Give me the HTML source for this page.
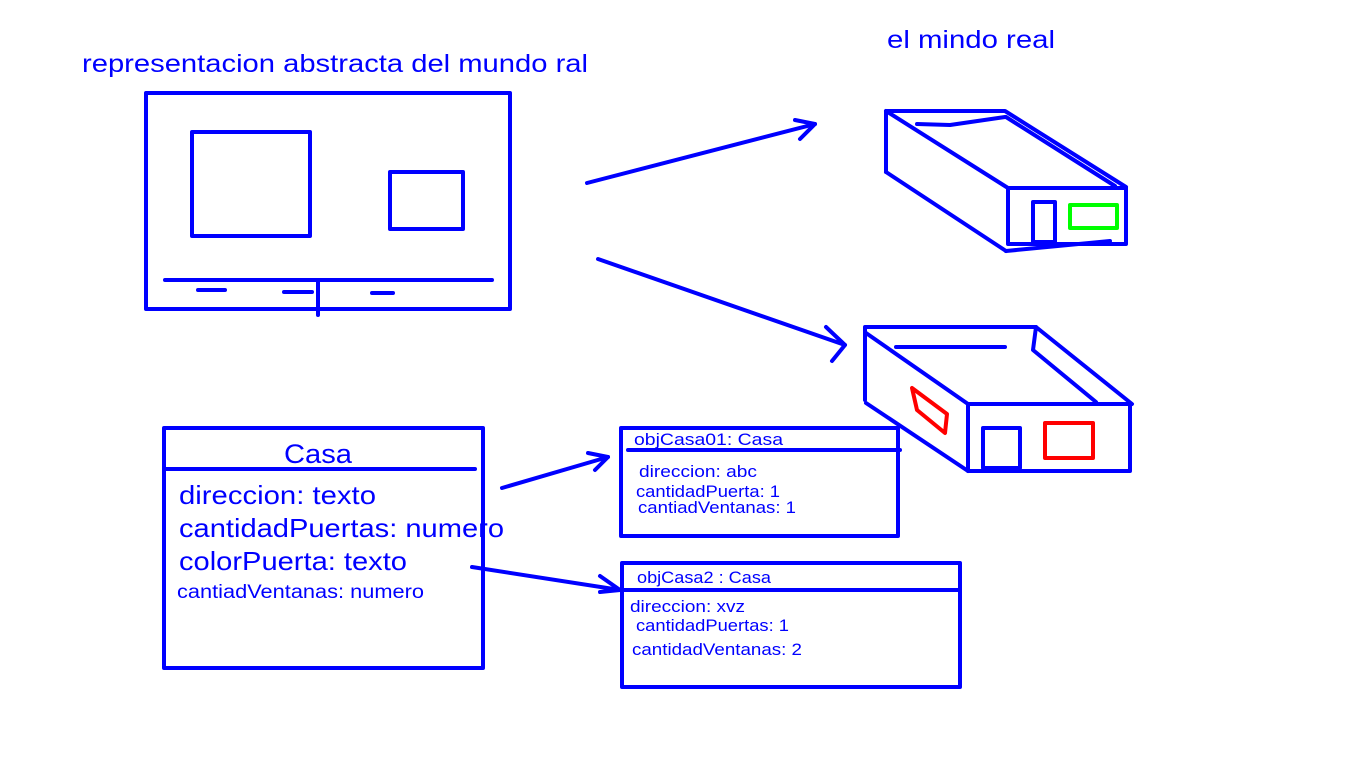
<!DOCTYPE html>
<html><head><style>body{margin:0;background:#fff}svg{display:block}text{font-family:"Liberation Sans",sans-serif;fill:#0000ff}</style></head><body>
<svg width="1366" height="768" viewBox="0 0 1366 768" xmlns="http://www.w3.org/2000/svg">
<g fill="none" stroke="#0000ff" stroke-width="4" stroke-linecap="round" stroke-linejoin="round">
<rect x="146" y="93" width="364" height="216"/>
<rect x="192" y="132" width="118" height="104"/>
<rect x="390" y="172" width="73" height="57"/>
<line x1="165" y1="280" x2="492" y2="280"/>
<line x1="318" y1="280" x2="318" y2="315"/>
<line x1="198" y1="290" x2="225" y2="290"/>
<line x1="284" y1="292" x2="312" y2="292"/>
<line x1="372" y1="293" x2="393" y2="293"/>
<line x1="587" y1="183" x2="815" y2="124"/><polyline points="795,120 815,124 800,139"/>
<line x1="598" y1="259" x2="845" y2="345"/><polyline points="826,327 845,345 832,361"/>
<line x1="502" y1="488" x2="608" y2="457"/><polyline points="588,453 608,457 595,470"/>
<line x1="472" y1="567" x2="620" y2="590"/><polyline points="600,576 620,590 600,592"/>
<polyline points="886,172 886,111 1005,111 1126,187"/>
<line x1="886" y1="172" x2="1006" y2="251"/>
<line x1="886" y1="111" x2="1008" y2="188"/>
<line x1="1006" y1="117" x2="1115" y2="186"/>
<polyline points="917,124 950,125 1005,117"/>
<rect x="1008" y="188" width="118" height="56"/>
<line x1="1006" y1="251" x2="1110" y2="241"/>
<rect x="1033" y="202" width="22" height="40"/>
<polyline points="865,400 865,327 1036,327 1132,404"/>
<line x1="866" y1="333" x2="968" y2="404"/>
<line x1="866" y1="403" x2="968" y2="471"/>
<polyline points="1036,327 1033,350 1096,402"/>
<line x1="896" y1="347" x2="1005" y2="347"/>
<rect x="968" y="404" width="162" height="67"/>
<rect x="983" y="428" width="37" height="40"/>
<rect x="164" y="428" width="319" height="240"/>
<line x1="164" y1="469" x2="475" y2="469"/>
<rect x="621" y="428" width="277" height="108"/>
<line x1="628" y1="450" x2="900" y2="450"/>
<rect x="622" y="563" width="338" height="124"/>
<line x1="622" y1="590" x2="958" y2="590"/>
</g>
<g fill="none" stroke-width="4" stroke-linejoin="round">
<rect x="1070" y="205" width="47" height="23" stroke="#00ff00"/>
<polygon points="912,388 917,410 945,433 947,414" stroke="#ff0000"/>
<rect x="1045" y="423" width="48" height="35" stroke="#ff0000"/>
</g>
<g lengthAdjust="spacingAndGlyphs">
<text x="82" y="72" font-size="25" textLength="506" lengthAdjust="spacingAndGlyphs">representacion abstracta del mundo ral</text>
<text x="887" y="48" font-size="25" textLength="168" lengthAdjust="spacingAndGlyphs">el mindo real</text>
<text x="284" y="463" font-size="27" textLength="68" lengthAdjust="spacingAndGlyphs">Casa</text>
<text x="179" y="504" font-size="26" textLength="197" lengthAdjust="spacingAndGlyphs">direccion: texto</text>
<text x="179" y="537" font-size="26" textLength="325" lengthAdjust="spacingAndGlyphs">cantidadPuertas: numero</text>
<text x="179" y="570" font-size="26" textLength="228" lengthAdjust="spacingAndGlyphs">colorPuerta: texto</text>
<text x="177" y="598" font-size="19" textLength="247" lengthAdjust="spacingAndGlyphs">cantiadVentanas: numero</text>
<text x="634" y="445" font-size="17" textLength="149" lengthAdjust="spacingAndGlyphs">objCasa01:   Casa</text>
<text x="639" y="477" font-size="17" textLength="118" lengthAdjust="spacingAndGlyphs">direccion: abc</text>
<text x="636" y="497" font-size="17" textLength="144" lengthAdjust="spacingAndGlyphs">cantidadPuerta: 1</text>
<text x="638" y="513" font-size="17" textLength="158" lengthAdjust="spacingAndGlyphs">cantiadVentanas: 1</text>
<text x="637" y="583" font-size="17" textLength="134" lengthAdjust="spacingAndGlyphs">objCasa2 : Casa</text>
<text x="630" y="612" font-size="17" textLength="115" lengthAdjust="spacingAndGlyphs">direccion: xvz</text>
<text x="636" y="631" font-size="17" textLength="153" lengthAdjust="spacingAndGlyphs">cantidadPuertas: 1</text>
<text x="632" y="655" font-size="17" textLength="170" lengthAdjust="spacingAndGlyphs">cantidadVentanas: 2</text>
</g>
</svg>
</body></html>
